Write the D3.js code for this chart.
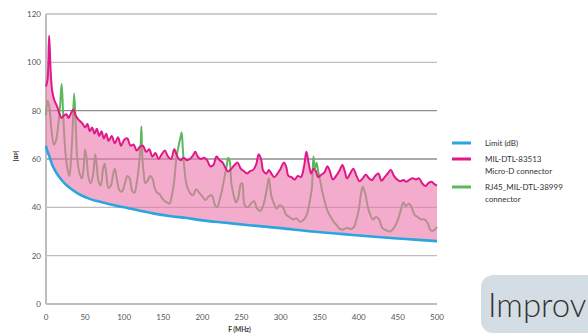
<!DOCTYPE html>
<html lang="en">
<head>
    <meta charset="UTF-8">
    <title>Connector emission vs limit</title>
    <style>
        body { margin: 0; background: #fff; }
        svg { font-family: Lato, "Open Sans", sans-serif; }
        .tick-label { font-size: 8px; fill: #555; }
        .legend-text { font-size: 8px; fill: #333; }
    </style>
</head>
<body>
<div id="content"></div>
<script src="https://d3js.org/d3.v7.min.js"></script>
<script>

    // ---- data ----
    var xTicks = [0, 50, 100, 150, 200, 250, 300, 350, 400, 450, 500];
    var yTicks = [0, 20, 40, 60, 80, 100, 120];

    // [MHz, dB]
    var limitPts = [[0,65.5],[2,63],[5,60.5],[8,57.5],[12,55],[16,53],[20,51.3],[25,49.5],[31,47.9],
        [38,46.3],[45,45],[55,43.6],[65,42.6],[78,41.6],[90,40.6],[100,40],[120,38.6],[140,37.3],
        [160,36.3],[180,35.6],[200,34.6],[230,33.6],[260,32.6],[300,31.4],[340,30],[380,28.9],
        [420,27.8],[460,26.9],[500,26]];

    var microDPts = [[0,90],[2,93],[4,111],[6,96],[8,88],[11,84],[14,82],[17,79],[20,77],[23,78],
        [26,78.5],[29,77],[32,79],[35,80.5],[38,78],[41,76.5],[44,75.5],[47,74.5],[50,73],[53,74.5],
        [56,71.5],[59,73],[62,70.5],[65,72.5],[68,69.5],[71,71.5],[74,68.5],[77,70.5],[80,67.5],[84,69.5],
        [88,66.5],[92,69],[96,65.5],[100,68],[104,68.5],[108,65.5],[112,66],[116,63.5],[120,65],
        [124,65.5],[128,63],[132,64],[136,61],[140,62.5],[144,60],[148,62],[152,63.5],[156,61],
        [160,60],[164,64],[168,61],[172,59.5],[176,60.5],[180,59.5],[184,60],[188,61.5],[191,63],
        [194,61],[198,60],[202,60.5],[206,59.5],[210,57],[214,57.5],[218,61],[222,59.5],[226,58.5],
        [230,56],[233,54.8],[237,56],[241,57.5],[245,58.5],[249,56],[253,55],[257,54],[261,55],
        [265,55.5],[269,58],[272,62],[275,60],[278,55],[282,54],[285,55.5],[289,53.5],[292,52.5],
        [296,54],[300,56],[304,58.5],[307,57],[310,53],[314,52.5],[318,51.5],[322,53],[326,52.5],
        [330,57],[333,63],[336,58],[339,54],[342,56],[345,55],[348,52.5],[352,53.5],[356,54.5],
        [360,57],[363,55],[367,51.5],[371,53],[375,55],[379,57.5],[382,55],[385,52],[389,54],
        [393,56],[397,53],[401,50.8],[405,52],[409,53.5],[413,52],[417,51.3],[421,53],[425,54],
        [429,51],[433,52.5],[437,54],[441,55.5],[445,53],[449,51.5],[453,50.8],[457,51.3],[461,50.6],
        [465,51.5],[469,52],[473,51.5],[477,52],[481,50],[485,48.8],[489,50],[493,50.6],[497,49.5],
        [500,49]];

    var rj45Pts = [[0,78],[2,84],[4,82],[7,72],[10,66],[13,68],[16,75],[18,82],[20,91],[22,78],
        [25,62],[28,55],[30,53],[32,60],[34,72],[36,87],[38,74],[40,60],[43,54],[46,52],[48,56],
        [50,64],[52,60],[54,53],[57,50],[60,53],[63,62],[65,57],[67,51],[70,49],[73,56],[75,58],
        [77,54],[80,48],[83,49],[86,54],[88,56],[91,51],[94,47],[97,46.5],[101,50],[104,53],
        [107,52],[110,47],[113,46],[116,50],[119,58],[121,66],[122,73.5],[123,62],[125,54],
        [127,50],[130,51],[133,53],[136,52],[139,48],[142,46],[145,45.5],[148,44],[152,42.5],
        [155,42],[158,41.5],[161,45],[164,51],[166,58],[168,63],[170,66],[172,69],[173.5,71],
        [175,64],[177,56],[180,49],[184,46],[188,45],[192,47.5],[196,46],[200,44.5],[204,43],
        [208,44.5],[212,45],[216,41],[219,40],[222,43],[225,47],[228,52],[231,57],[233,60.5],
        [235,59],[237,50],[240,45],[243,42],[246,44],[249,49.5],[251,50],[254,41],[258,40],
        [262,41.5],[266,42.5],[270,39.5],[274,38.5],[278,41],[282,47],[285,52],[288,45],[291,42],
        [295,39.5],[299,41],[303,40],[307,37],[311,36],[316,35],[320,35.5],[325,34],[330,35],
        [334,37.5],[337,42],[340,48],[342,61],[344,56],[346,58.5],[348,55],[350,52],[353,47],
        [356,43],[360,38.5],[364,36],[368,34],[372,32.5],[376,31],[380,30.8],[385,31.5],[390,31],
        [394,32],[397,35],[400,39],[403,46],[405,48.5],[408,46],[411,41],[414,37.5],[418,35],
        [422,36],[426,35],[430,31.5],[435,30.5],[440,30],[445,31.5],[449,34],[453,38],[457,42],
        [460,40.5],[464,41.5],[467,40.5],[471,37],[475,36],[480,35],[484,35],[488,33.5],[492,30.5],
        [496,30.5],[500,32]];

    var legendItems = [
        { lines: ["Limit (dB)"], color: "#2aa5de" },
        { lines: ["MIL-DTL-83513", "Micro-D connector"], color: "#e0188a" },
        { lines: ["RJ45_MIL-DTL-38999", "connector"], color: "#5cb85a" }
    ];

    // ---- chart ----
    var svg = d3.select("#content").append("svg")
        .attr("width", 588)
        .attr("height", 336);

    var x = d3.scaleLinear().domain([0, 500]).range([46, 437]);
    var y = d3.scaleLinear().domain([0, 120]).range([304, 14]);

    // grid
    svg.append("g").selectAll("line")
        .data(yTicks)
        .enter().append("line")
        .attr("x1", x(0)).attr("x2", x(500))
        .attr("y1", function (d) { return y(d); })
        .attr("y2", function (d) { return y(d); })
        .attr("stroke", function (d) { return (d === 60 || d === 80) ? "#8e8e8e" : "#bdbdbd"; })
        .attr("stroke-width", function (d) { return d === 0 ? 2 : 1.4; });

    svg.append("line")
        .attr("x1", x(0)).attr("x2", x(0))
        .attr("y1", y(120)).attr("y2", y(0))
        .attr("stroke", "#bdbdbd")
        .attr("stroke-width", 2);

    var line = d3.line()
        .x(function (d) { return x(d[0]); })
        .y(function (d) { return y(d[1]); })
        .curve(d3.curveCatmullRom.alpha(0.5));

    // RJ45 trace sits under the pink band, so it turns brownish inside it
    svg.append("path")
        .datum(rj45Pts)
        .attr("fill", "none")
        .attr("stroke", "#5cb85a")
        .attr("stroke-width", 2)
        .attr("d", line);

    // pink band between Micro-D trace and the limit
    var band = line(microDPts) + line(limitPts.slice().reverse()).replace(/^M/, "L") + "Z";
    svg.append("path")
        .attr("d", band)
        .attr("fill", "#ec74ac")
        .attr("fill-opacity", 0.6);

    svg.append("path")
        .datum(microDPts)
        .attr("fill", "none")
        .attr("stroke", "#e0188a")
        .attr("stroke-width", 2)
        .attr("d", line);

    svg.append("path")
        .datum(limitPts)
        .attr("fill", "none")
        .attr("stroke", "#2aa5de")
        .attr("stroke-width", 2.6)
        .attr("d", line);

    // tick labels
    svg.append("g").selectAll("text")
        .data(yTicks)
        .enter().append("text")
        .attr("class", "tick-label")
        .attr("x", 41)
        .attr("y", function (d) { return y(d) + 3; })
        .attr("text-anchor", "end")
        .text(function (d) { return d; });

    svg.append("g").selectAll("text")
        .data(xTicks)
        .enter().append("text")
        .attr("class", "tick-label")
        .attr("x", function (d) { return x(d); })
        .attr("y", 320)
        .attr("text-anchor", "middle")
        .text(function (d) { return d; });

    svg.append("text")
        .attr("transform", "translate(14,156) rotate(90)")
        .attr("text-anchor", "middle")
        .attr("font-size", "6px")
        .attr("font-weight", "bold")
        .attr("fill", "#333")
        .text("[dB]");

    svg.append("text")
        .attr("x", x(250) - 2)
        .attr("y", 332)
        .attr("text-anchor", "middle")
        .attr("font-size", "6.5px")
        .attr("font-weight", "bold")
        .attr("fill", "#333")
        .text("F (MHz)");

    // legend
    var rowY = [143, 159, 187];
    var legend = svg.append("g");
    legendItems.forEach(function (item, i) {
        legend.append("line")
            .attr("x1", 452).attr("x2", 471)
            .attr("y1", rowY[i]).attr("y2", rowY[i])
            .attr("stroke", item.color)
            .attr("stroke-width", 3);
        item.lines.forEach(function (t, j) {
            legend.append("text")
                .attr("class", "legend-text")
                .attr("x", 485)
                .attr("y", rowY[i] + 2.5 + j * 12)
                .text(t);
        });
    });

    // cropped slide element bottom right (only its visible part)
    svg.append("rect")
        .attr("x", 481).attr("y", 275)
        .attr("width", 130).attr("height", 58)
        .attr("rx", 12)
        .attr("fill", "#d5dde4");
    svg.append("text")
        .attr("x", 488)
        .attr("y", 317)
        .attr("font-size", "33px")
        .attr("font-weight", 300)
        .attr("fill", "#333")
        .text("Improv");

</script>
</body>
</html>
